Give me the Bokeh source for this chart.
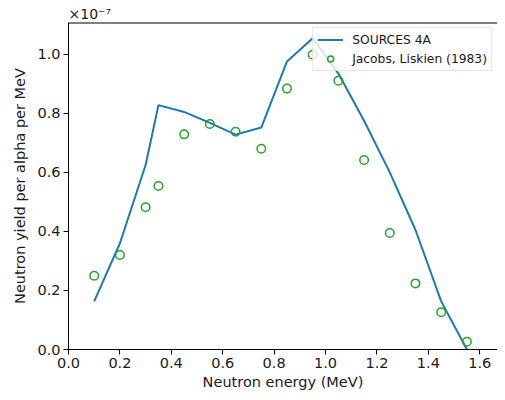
from bokeh.plotting import figure
from bokeh.models import Range1d, Legend, LegendItem, FixedTicker, ColumnDataSource
from bokeh.embed import file_html
from bokeh.resources import INLINE

# Values in units of 1e-7 (neutron yield per alpha per MeV)
sources_energy = [0.1, 0.2, 0.3, 0.35, 0.45, 0.55, 0.65, 0.75, 0.85, 0.95, 1.05, 1.15, 1.25, 1.35, 1.45, 1.55]
sources_yield = [0.163, 0.36, 0.625, 0.828, 0.805, 0.768, 0.728, 0.752, 0.976, 1.055, 0.935, 0.775, 0.6, 0.405, 0.163, 0.0]

jl_energy = [0.1, 0.2, 0.3, 0.35, 0.45, 0.55, 0.65, 0.75, 0.85, 0.95, 1.05, 1.15, 1.25, 1.35, 1.45, 1.55]
jl_yield = [0.25, 0.32, 0.482, 0.554, 0.729, 0.764, 0.738, 0.68, 0.884, 0.999, 0.911, 0.642, 0.395, 0.224, 0.126, 0.026]

x_ticks = [0.0, 0.2, 0.4, 0.6, 0.8, 1.0, 1.2, 1.4, 1.6]
y_ticks = [0.0, 0.2, 0.4, 0.6, 0.8, 1.0]
x_max = 1.669
y_top = 1.108

FONT = "DejaVu Sans"
TXT = "#1a1a1a"

p = figure(width=497, height=392, output_backend="svg", toolbar_location=None,
           x_range=Range1d(0, x_max), y_range=Range1d(0, y_top),
           min_border_left=68, min_border_right=0, min_border_top=22, min_border_bottom=42)

p.grid.visible = False
p.outline_line_color = None
p.background_fill_color = "white"
p.border_fill_color = "white"

# scale factor shown above the axis, like matplotlib's offset text
p.title.text = "×10⁻⁷"
p.title.align = "left"
p.title.text_font = FONT
p.title.text_font_size = "14px"
p.title.text_font_style = "normal"
p.title.text_color = TXT
p.title.offset = 0
p.title.standoff = 2

xax = p.below[0]
yax = p.left[0]

for ax in (xax, yax):
    ax.major_label_text_font = FONT
    ax.major_label_text_font_size = "14.5px"
    ax.major_label_text_color = TXT
    ax.axis_label_text_font = FONT
    ax.axis_label_text_font_size = "14.5px"
    ax.axis_label_text_font_style = "normal"
    ax.axis_label_text_color = TXT
    ax.minor_tick_line_color = None
    ax.major_tick_out = 5
    ax.major_tick_in = 0
    ax.major_label_standoff = 3
    ax.axis_line_color = "black"

xax.ticker = FixedTicker(ticks=x_ticks)
yax.ticker = FixedTicker(ticks=y_ticks)
xax.major_label_overrides = {t: f"{t:.1f}" for t in x_ticks}
yax.major_label_overrides = {t: f"{t:.1f}" for t in y_ticks}
xax.axis_label = "Neutron energy (MeV)"
yax.axis_label = "Neutron yield per alpha per MeV"
xax.axis_label_standoff = 3
yax.axis_label_standoff = 6

# top spine (no right spine visible in the reference crop)
p.segment(x0=[0], y0=[y_top], x1=[x_max], y1=[y_top], line_color="black", line_width=2)

src_line = ColumnDataSource(dict(x=sources_energy, y=sources_yield))
src_pts = ColumnDataSource(dict(x=jl_energy, y=jl_yield))

r_line = p.line("x", "y", source=src_line, line_color="#1f77b4", line_width=2)
r_pts = p.scatter("x", "y", source=src_pts, marker="circle", size=8.5,
                  fill_color=None, line_color="#2ca02c", line_width=1.5)

legend = Legend(items=[LegendItem(label="SOURCES 4A", renderers=[r_line]),
                       LegendItem(label="Jacobs, Liskien (1983)", renderers=[r_pts])],
                location="top_right")
legend.margin = 5
legend.padding = 4
legend.spacing = 4
legend.label_text_font = FONT
legend.label_text_font_size = "12.3px"
legend.label_text_color = TXT
legend.label_height = 15
legend.glyph_height = 15
legend.glyph_width = 26
legend.label_standoff = 9
legend.border_line_color = "#d0d0d0"
legend.background_fill_alpha = 0.8
p.add_layout(legend)

open("out.html", "w").write(file_html(p, INLINE))
